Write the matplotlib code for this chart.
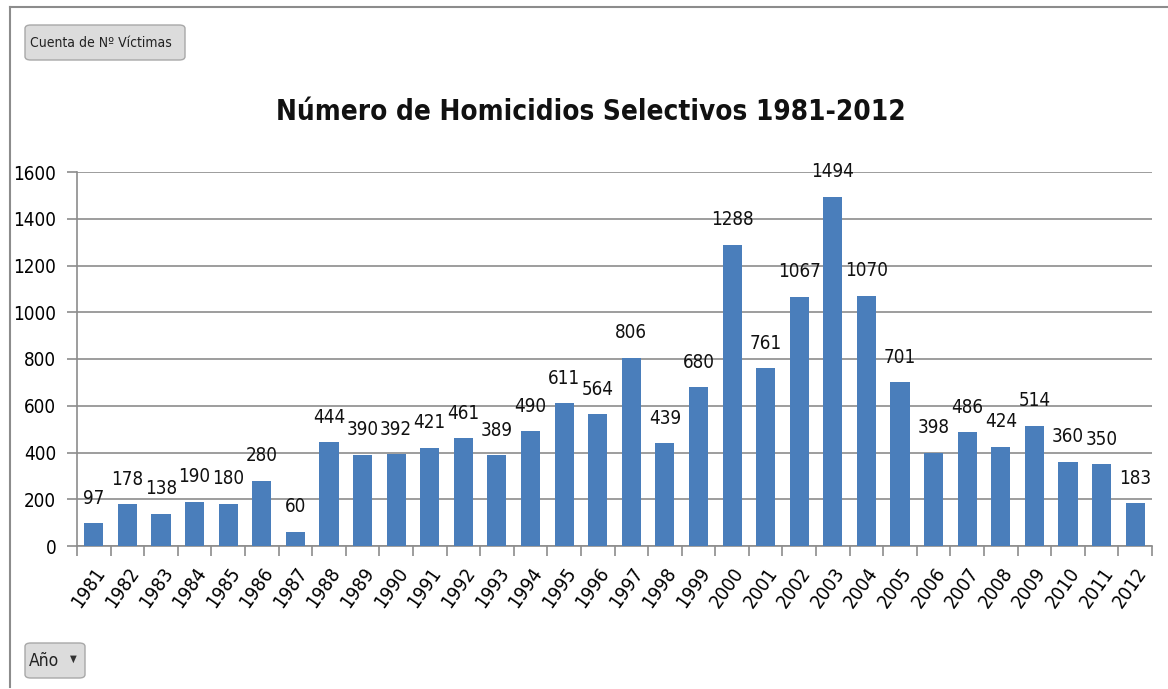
import matplotlib
matplotlib.use("Agg")
import matplotlib.pyplot as plt
from matplotlib.patches import FancyBboxPatch
from matplotlib.lines import Line2D

years = [str(y) for y in range(1981, 2013)]
values = [97, 178, 138, 190, 180, 280, 60, 444, 390, 392, 421, 461, 389, 490, 611, 564,
          806, 439, 680, 1288, 761, 1067, 1494, 1070, 701, 398, 486, 424, 514, 360, 350, 183]
yticks = [0, 200, 400, 600, 800, 1000, 1200, 1400, 1600]
title = "Número de Homicidios Selectivos 1981-2012"

plt.rcParams['font.family'] = ['DejaVu Sans']
plt.rcParams['font.stretch'] = 'condensed'

W, H = 1168, 689
fig = plt.figure(figsize=(W/100, H/100), dpi=100)
ax = fig.add_axes([77/W, 1-546/H, (1152-77)/W, (546-172)/H])

bar_color = '#4a7ebb'
x = list(range(len(years)))
ax.bar(x, values, width=0.57, color=bar_color, zorder=3)
for xi, v in zip(x, values):
    ax.annotate(str(v), (xi, v), xytext=(0, 25), textcoords='offset pixels',
                ha='center', va='center', fontsize=13.5, color='#111111',
                fontstretch='condensed')

ax.set_xlim(-0.5, len(years) - 0.5)
ax.set_ylim(0, 1600)
ax.set_yticks(yticks)
ax.set_yticklabels([str(t) for t in yticks], fontsize=13.5, fontstretch='condensed')
ax.yaxis.grid(True, color='#8c8c8c', linewidth=1.2, zorder=0)
ax.set_xticks([i - 0.5 for i in range(len(years) + 1)], minor=False)
ax.set_xticklabels([])
ax.set_xticks(x, minor=True)
ax.set_xticklabels(years, minor=True, rotation=55, ha='right', va='top',
                   rotation_mode='anchor', fontsize=14, fontstretch='condensed')
ax.tick_params(axis='x', which='minor', length=0, pad=13)
ax.tick_params(axis='x', which='major', length=7, color='#8c8c8c', width=1.2)
ax.tick_params(axis='y', length=7, color='#8c8c8c', width=1.2, pad=8)
for s in ['top', 'right']:
    ax.spines[s].set_visible(False)
for s in ['left', 'bottom']:
    ax.spines[s].set_color('#8c8c8c')
    ax.spines[s].set_linewidth(1.2)

fig.text(591/W, 1-112/H, title, ha='center', va='center', fontsize=20,
         fontweight='bold', color='#111111', fontstretch='condensed')

# frame lines
fig.add_artist(Line2D([10/W, 10/W], [1-687/H, 1-7/H], color='#8c8c8c', lw=1.5))
fig.add_artist(Line2D([10/W, 1], [1-7/H, 1-7/H], color='#8c8c8c', lw=1.5))

# buttons
def button(x0, y0, w, h):
    p = FancyBboxPatch((x0/W, 1-(y0+h)/H), w/W, h/H,
                       boxstyle="round,pad=0,rounding_size=0.005",
                       transform=fig.transFigure, facecolor='#dcdcdc',
                       edgecolor='#a8a8a8', lw=1)
    fig.add_artist(p)
    return p

button(25, 25, 160, 35)
fig.text(30/W, 1-43/H, "Cuenta de Nº Víctimas", ha='left', va='center', fontsize=10,
         color='#222222', fontstretch='condensed')
button(25, 643, 60, 35)
fig.text(29/W, 1-661/H, "Año", ha='left', va='center', fontsize=12.5, color='#222222',
         fontstretch='condensed')
fig.text(73/W, 1-659/H, "▼", ha='center', va='center', fontsize=7, color='#333333')

fig.savefig("out.png", dpi=100)
